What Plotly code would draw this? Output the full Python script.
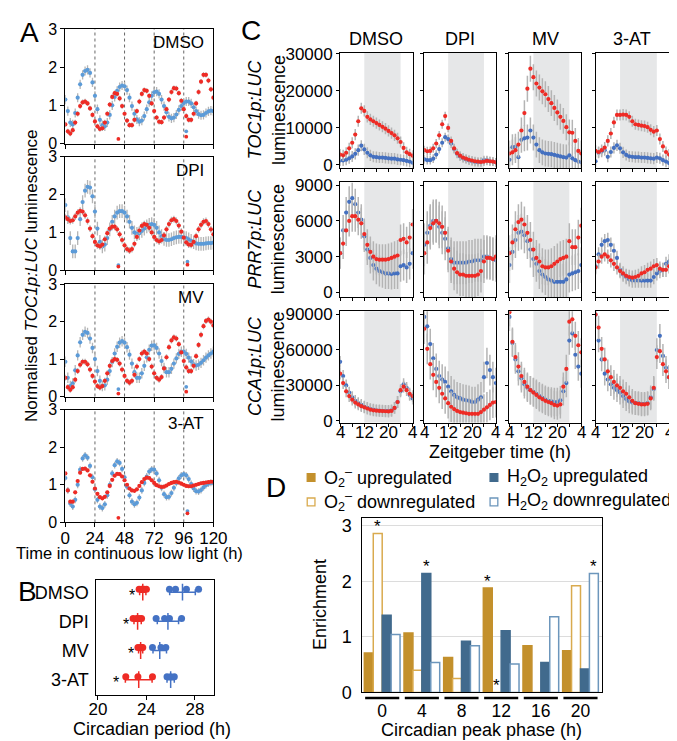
import numpy as np
import plotly.graph_objects as go

# ======================= DATA =======================
CONDITIONS = ["DMSO", "DPI", "MV", "3-AT"]

# ---- Panel A: normalised TOC1p:LUC, sampled every 2 h, 0..120 h ----
A_STEP = 2
A_DMSO_BLUE = [1.15, 0.85, 0.55, 0.5, 0.8, 1.2, 1.55, 1.8, 1.9, 1.93,
               1.85, 1.6, 1.25, 0.9, 0.62, 0.48, 0.45, 0.55, 0.75, 1.0,
               1.22, 1.38, 1.48, 1.52, 1.5, 1.4, 1.2, 0.98, 0.78, 0.63,
               0.57, 0.6, 0.72, 0.9, 1.08, 1.25, 1.34, 1.36, 1.3, 1.15,
               0.98, 0.82, 0.7, 0.66, 0.68, 0.76, 0.88, 0.98, 1.06, 1.1,
               1.1, 1.05, 0.95, 0.85, 0.77, 0.74, 0.75, 0.8, 0.84, 0.86,
               0.85]
A_DMSO_RED = [0.5, 0.32, 0.26, 0.35, 0.55, 0.78, 0.98, 1.08, 1.1, 1.05,
              0.92, 0.75, 0.58, 0.45, 0.38, 0.4, 0.55, 0.78, 1.02, 1.22,
              1.32, 1.3, 1.18, 0.98, 0.78, 0.6, 0.48, 0.48, 0.62, 0.85,
              1.1, 1.3, 1.4, 1.38, 1.25, 1.05, 0.85, 0.68, 0.57, 0.56,
              0.68, 0.9, 1.15, 1.35, 1.45, 1.44, 1.32, 1.12, 0.9, 0.72,
              0.62, 0.62, 0.78, 1.05, 1.35, 1.62, 1.8, 1.8, 1.65, 1.42,
              1.2]
A_DPI_BLUE = [1.72, 1.4, 0.85, 0.5, 0.5, 0.85, 1.35, 1.8, 2.1, 2.2,
              2.18, 1.95, 1.55, 1.1, 0.75, 0.63, 0.68, 0.85, 1.08, 1.28,
              1.42, 1.52, 1.56, 1.56, 1.52, 1.42, 1.28, 1.12, 1.0, 0.96,
              0.98, 1.04, 1.1, 1.16, 1.2, 1.22, 1.2, 1.12, 1.0, 0.9,
              0.83, 0.8, 0.8, 0.82, 0.85, 0.87, 0.88, 0.88, 0.87, 0.85,
              0.82, 0.78, 0.74, 0.71, 0.7, 0.7, 0.7, 0.71, 0.72, 0.72,
              0.73]
A_DPI_RED = [1.4, 1.35, 1.3, 1.32, 1.42, 1.52, 1.57, 1.55, 1.45, 1.3,
             1.1, 0.9, 0.75, 0.66, 0.63, 0.68, 0.82, 0.98, 1.1, 1.15,
             1.15, 1.08, 0.95, 0.8, 0.66, 0.56, 0.52, 0.56, 0.7, 0.88,
             1.05, 1.17, 1.22, 1.2, 1.12, 1.0, 0.88, 0.8, 0.76, 0.8,
             0.92, 1.08, 1.22, 1.32, 1.35, 1.3, 1.18, 1.02, 0.86, 0.74,
             0.68, 0.67, 0.75, 0.9, 1.08, 1.2, 1.28, 1.3, 1.22, 1.08,
             0.95]
A_MV_BLUE = [0.93, 0.5, 0.28, 0.35, 0.7, 1.1, 1.45, 1.65, 1.73, 1.7,
             1.55, 1.3, 1.0, 0.68, 0.42, 0.28, 0.3, 0.45, 0.68, 0.92,
             1.15, 1.33, 1.44, 1.48, 1.44, 1.32, 1.12, 0.88, 0.65, 0.5,
             0.5, 0.62, 0.82, 1.05, 1.25, 1.36, 1.37, 1.3, 1.15, 0.95,
             0.76, 0.65, 0.65, 0.74, 0.88, 1.02, 1.14, 1.2, 1.2, 1.14,
             1.04, 0.94, 0.86, 0.83, 0.85, 0.9, 0.97, 1.04, 1.1, 1.15,
             1.2]
A_MV_RED = [0.5, 0.25, 0.18, 0.25, 0.45, 0.68, 0.85, 0.93, 0.93, 0.86,
            0.72, 0.55, 0.4, 0.28, 0.24, 0.28, 0.42, 0.62, 0.82, 0.95,
            1.0, 0.98, 0.88, 0.72, 0.55, 0.42, 0.37, 0.42, 0.58, 0.8,
            1.0, 1.15, 1.2, 1.15, 1.0, 0.8, 0.62, 0.5, 0.45, 0.52,
            0.75, 1.05, 1.32, 1.5, 1.58, 1.55, 1.4, 1.18, 0.95, 0.78,
            0.68, 0.68, 0.82, 1.08, 1.38, 1.65, 1.88, 2.02, 2.06, 2.0,
            1.9]
A_3AT_BLUE = [1.18, 0.85, 0.5, 0.42, 0.6, 1.0, 1.4, 1.7, 1.78, 1.72,
              1.5, 1.2, 0.88, 0.6, 0.42, 0.38, 0.48, 0.72, 1.0, 1.3,
              1.52, 1.62, 1.58, 1.42, 1.2, 0.95, 0.72, 0.55, 0.48, 0.52,
              0.66, 0.85, 1.05, 1.22, 1.35, 1.41, 1.4, 1.3, 1.12, 0.92,
              0.75, 0.67, 0.68, 0.78, 0.92, 1.05, 1.17, 1.25, 1.28, 1.25,
              1.15, 1.02, 0.9, 0.83, 0.82, 0.86, 0.93, 0.99, 1.03, 1.05,
              1.05]
A_3AT_RED = [1.3, 0.85, 0.55, 0.55, 0.8, 1.1, 1.32, 1.42, 1.43, 1.38,
             1.25, 1.08, 0.9, 0.76, 0.67, 0.64, 0.68, 0.8, 0.97, 1.13,
             1.24, 1.29, 1.28, 1.22, 1.12, 1.0, 0.9, 0.85, 0.84, 0.88,
             0.97, 1.07, 1.15, 1.19, 1.18, 1.12, 1.05, 0.99, 0.96, 0.94,
             0.95, 0.98, 1.02, 1.05, 1.07, 1.08, 1.06, 1.03, 1.0, 0.97,
             0.96, 0.96, 0.98, 1.0, 1.02, 1.04, 1.05, 1.06, 1.07, 1.08,
             1.08]
A_BLUE = [A_DMSO_BLUE, A_DPI_BLUE, A_MV_BLUE, A_3AT_BLUE]
A_RED = [A_DMSO_RED, A_DPI_RED, A_MV_RED, A_3AT_RED]
A_ERR_BLUE = [0.12, 0.18, 0.14, 0.09]
A_ERR_RED = [0.07, 0.09, 0.08, 0.05]
A_PEAK_BLUE_T = [[98], [43, 99], [43, 98], [99]]
A_PEAK_BLUE_V = [[0.32], [0.14, 0.23], [0.2, 0.26], [0.3]]
A_PEAK_RED_T = [[43, 98], [43, 99], [43, 98], [43, 99]]
A_PEAK_RED_V = [[0.12, 0.18], [0.1, 0.15], [0.08, 0.13], [0.12, 0.24]]
A_XTICKS = [0, 24, 48, 72, 96, 120]
for s in A_BLUE + A_RED:
    assert len(s) == 61, len(s)

# ---- Panel B: circadian period (h) ----
B_RED = [[23.4, 23.6, 23.8, 24.0], [22.9, 23.2, 23.4, 23.6],
         [23.3, 23.5, 23.6, 23.7], [22.3, 23.3, 24.5]]
B_BLUE = [[25.9, 26.4, 27.3, 28.3], [24.8, 25.5, 25.9, 26.9],
          [24.5, 25.2, 25.6], [25.7, 26.0, 26.3]]
B_STAR_X = [22.8, 22.3, 22.7, 21.5]

# ---- Panel C: luminescence vs Zeitgeber time (ZT4..ZT28, hourly) ----
C_ZT = list(range(4, 29))
C_TOC1_RED = [
    [2800, 2600, 3300, 4500, 6000, 8200, 11800, 15300, 14600, 13000, 12300, 11800, 11300,
     10800, 10300, 9800, 9200, 8600, 8000, 7200, 6200, 4600, 3400, 2900, 2500],
    [4000, 3700, 3800, 4500, 5800, 8000, 11000, 13200, 10000, 6500, 4500, 3200, 2500,
     2000, 1700, 1400, 1200, 1000, 900, 800, 900, 1100, 1000, 900, 700],
    [3100, 3400, 4000, 5500, 9300, 14000, 20600, 26000, 23700, 22000, 20900, 19900, 19100,
     17800, 16700, 15400, 14200, 13000, 11900, 10200, 8800, 8700, 6500, 3800, 3100],
    [3800, 3500, 4000, 4700, 6500, 8500, 11500, 13500, 13500, 13600, 13500, 13000, 11800,
     11000, 10800, 10600, 10500, 10200, 9500, 9000, 9300, 7000, 5000, 3500, 2800]]
C_TOC1_BLUE = [
    [1200, 1200, 1400, 1800, 2300, 3000, 4000, 5200, 4200, 3300, 2600, 2200, 2100,
     2000, 2000, 1900, 1800, 1700, 1700, 1500, 1400, 1300, 1100, 900, 600],
    [1500, 1300, 1300, 1700, 2800, 4300, 6000, 7500, 7000, 5800, 4300, 3000, 2300,
     1800, 1500, 1200, 1000, 800, 700, 800, 1300, 1300, 1000, 900, 700],
    [1400, 4800, 4900, 2100, 6800, 7200, 7400, 9300, 7400, 5500, 4000, 3400, 3100,
     3000, 2900, 2700, 2500, 2300, 2100, 2000, 2600, 1800, 1300, 900, 700],
    [1000, 3300, 3600, 4000, 2200, 3500, 4600, 5300, 4500, 3400, 2700, 2300, 2200,
     2100, 2100, 2000, 2000, 1900, 1800, 1700, 2000, 1800, 1300, 900, 500]]
C_PRR7_RED = [
    [3300, 4100, 5200, 6000, 6400, 6400, 6100, 5800, 4900, 4000, 3400, 3000, 2800,
     2750, 2750, 2750, 2800, 2900, 3000, 3100, 4400, 4500, 4200, 4600, 5700],
    [3300, 4200, 5400, 5800, 6000, 5800, 5500, 5000, 3500, 2600, 2000, 1700, 1500,
     1500, 1400, 1400, 1400, 1400, 1500, 1800, 2600, 2900, 2900, 2800, 3000],
    [3300, 4200, 5300, 5900, 6100, 5700, 5000, 4400, 3600, 2900, 2600, 2200, 2100,
     2100, 2200, 2400, 2600, 2800, 2900, 3000, 4300, 3800, 3800, 4600, 5600],
    [2100, 2600, 3000, 3200, 3000, 2700, 2400, 2100, 1800, 1600, 1400, 1300, 1250,
     1300, 1400, 1600, 1700, 1900, 2000, 2200, 2300, 2000, 1900, 1900, 2200]]
C_PRR7_BLUE = [
    [3300, 5200, 6700, 7600, 7900, 7400, 6700, 6100, 4700, 3600, 2900, 2300, 2000,
     1800, 1700, 1600, 1600, 1550, 1600, 1600, 2200, 2300, 2100, 2400, 3300],
    [4000, 5000, 5600, 6000, 6000, 5500, 5000, 4500, 3700, 2800, 2500, 2500, 2500,
     2500, 2500, 2600, 2600, 2700, 2700, 2700, 3000, 3000, 2900, 2800, 2700],
    [2300, 3400, 4400, 5000, 5100, 4800, 4300, 3600, 2800, 2400, 1800, 1500, 1300,
     1100, 1000, 900, 900, 900, 900, 1100, 1500, 1600, 1700, 1800, 2300],
    [2200, 3200, 4000, 4300, 4400, 4000, 3500, 2900, 1900, 1500, 1300, 1100, 1000,
     1000, 1000, 1000, 1000, 1000, 1000, 1300, 1600, 1800, 1900, 2400, 2600]]
C_CCA1_RED = [
    [40000, 32000, 25000, 21000, 18000, 15500, 14000, 12500, 11500, 10500, 9500, 9000, 8700,
     8500, 8300, 8200, 8000, 8500, 11000, 16000, 26000, 29000, 26000, 23000, 21000],
    [78000, 61000, 48000, 39000, 33000, 28000, 23000, 19000, 15000, 12000, 10000, 8500, 7500,
     7000, 6500, 6000, 6000, 6000, 6000, 7500, 9500, 11500, 13500, 15500, 16000],
    [92000, 67000, 54000, 46000, 38000, 33000, 29000, 26000, 24000, 22000, 20000, 18500, 17000,
     16000, 15000, 13500, 13000, 14000, 29000, 44000, 84000, 86000, 72000, 64000, 58000],
    [90000, 79000, 61000, 52000, 42000, 37000, 33000, 30000, 28000, 25000, 23000, 20000, 17000,
     15000, 14500, 14000, 14000, 14500, 19000, 28000, 54000, 59000, 48000, 42000, 37000]]
C_CCA1_BLUE = [
    [50000, 38000, 30000, 24000, 20000, 17000, 15000, 13500, 12000, 11000, 10000, 9500, 9000,
     8800, 8600, 8500, 8500, 9000, 11000, 16000, 25000, 31000, 28000, 22000, 19000],
    [88000, 80000, 65000, 53000, 44000, 38000, 35000, 33000, 29000, 25000, 22000, 20000, 19000,
     18000, 17500, 17000, 16000, 16000, 18000, 20000, 37000, 49000, 43000, 37000, 32000],
    [88000, 66000, 52000, 42000, 36000, 31000, 28000, 26000, 24500, 23000, 21000, 19500, 18000,
     17000, 16500, 16000, 16000, 17500, 25000, 32000, 68000, 74000, 56000, 46000, 40000],
    [90000, 68000, 52000, 40000, 35000, 31000, 28000, 26000, 24000, 21000, 18500, 16500, 15500,
     15000, 15000, 14500, 14500, 15000, 20000, 27000, 60000, 72000, 55000, 45000, 37000]]
C_ERR_TOC1 = [1500, 1200, 3500, 1500]
C_ERR_PRR7 = [1300, 1800, 1500, 600]
C_ERR_CCA1 = [5000, 13000, 12000, 10000]
C_YTICKS = [[0, 10000, 20000, 30000], [0, 3000, 6000, 9000], [0, 30000, 60000, 90000]]
C_ROW_LABELS = ["TOC1p:LUC", "PRR7p:LUC", "CCA1p:LUC"]
C_XTICKS = [4, 8, 12, 16, 20, 24, 28]
C_XLABEL_VALS = [4, 12, 20, 28]
C_XLABEL_TEXT = ["4", "12", "20", "4"]
C_DARK = [12, 24]
for grp in (C_TOC1_RED, C_TOC1_BLUE, C_PRR7_RED, C_PRR7_BLUE, C_CCA1_RED, C_CCA1_BLUE):
    for s in grp:
        assert len(s) == 25, len(s)

# ---- Panel D: enrichment by circadian peak phase ----
D_PHASES = ["0", "4", "8", "12", "16", "20"]
D_O2_UP = [0.71, 1.07, 0.63, 1.88, 0.84, 0.75]
D_O2_DOWN = [2.86, 0.40, 0.25, 0.0, 0.0, 1.92]
D_H2O2_UP = [1.39, 2.14, 0.92, 1.11, 0.54, 0.42]
D_H2O2_DOWN = [1.04, 0.54, 0.84, 0.51, 1.36, 2.14]
D_STARS = [(0, 1), (1, 2), (3, 0), (3, 1), (5, 3)]  # (phase index, series index)

# ======================= STYLE =======================
W, H = 677, 741
FONT = "Liberation Sans, Arial, Helvetica, sans-serif"
RED = "#EE2B25"
BLUE_A = "#5C9BD8"
BLUE_B = "#4472C4"
BLUE_C = "#4470C0"
ERR_GREY = "#B4B4B4"
SHADE = "#E6E7E8"
GOLD = "#C3902C"
GOLD_L = "#D9AA4E"
STEEL = "#416A8D"
STEEL_L = "#6C96BC"


def px(x):
    return x / W


def py(y):
    return 1 - y / H


fig = go.Figure()
layout = dict(width=W, height=H, margin=dict(l=0, r=0, t=0, b=0),
              paper_bgcolor="white", plot_bgcolor="white", showlegend=False,
              font=dict(family=FONT, size=17, color="black"),
              barmode="group", bargap=0.1, bargroupgap=0.0)
shapes = []
annotations = []

AX = dict(showline=True, linecolor="black", linewidth=1, mirror=True,
          ticks="outside", ticklen=4, tickwidth=1, tickcolor="black",
          showgrid=False, zeroline=False, tickfont=dict(size=17, family=FONT))


def add_axes(n, xl, xr, yt, yb, xkw, ykw):
    xname = "xaxis" if n == 1 else f"xaxis{n}"
    yname = "yaxis" if n == 1 else f"yaxis{n}"
    layout[xname] = dict(AX, domain=[px(xl), px(xr)], anchor="y" if n == 1 else f"y{n}", **xkw)
    layout[yname] = dict(AX, domain=[py(yb), py(yt)], anchor="x" if n == 1 else f"x{n}", **ykw)
    return ("x" if n == 1 else f"x{n}"), ("y" if n == 1 else f"y{n}")


def ann(text, x, y, size=17, xanchor="center", yanchor="middle", angle=0, **kw):
    d = dict(text=text, x=px(x), y=py(y), xref="paper", yref="paper", showarrow=False,
             font=dict(size=size, family=FONT, color="black"), xanchor=xanchor,
             yanchor=yanchor, textangle=angle)
    d.update(kw)
    annotations.append(d)


# ======================= PANEL A =======================
A_BOX = [(13.3, 130.7), (144, 260.7), (275, 390), (403.3, 519)]
for i, cond in enumerate(CONDITIONS):
    n = i + 1
    top, bot = A_BOX[i]
    xa, ya = add_axes(n, 51, 204, top, bot,
                      dict(range=[0, 120], tickvals=A_XTICKS, showticklabels=(i == 3),
                           ticklabelstandoff=-4),
                      dict(range=[0, 3], tickvals=[0, 1, 2, 3],
                           tickfont=dict(size=16, family=FONT)))
    t = list(range(0, A_STEP * len(A_BLUE[i]), A_STEP))
    for vals, err, col in ((A_BLUE[i], A_ERR_BLUE[i], BLUE_A), (A_RED[i], A_ERR_RED[i], RED)):
        fig.add_trace(go.Scatter(x=t, y=vals, mode="markers", xaxis=xa, yaxis=ya,
                                 marker=dict(size=4.2, color=col),
                                 error_y=dict(type="constant", value=err, color=ERR_GREY,
                                              thickness=1.3, width=0)))
    fig.add_trace(go.Scatter(x=A_PEAK_BLUE_T[i], y=A_PEAK_BLUE_V[i], mode="markers",
                             xaxis=xa, yaxis=ya, marker=dict(size=3.8, color=BLUE_A)))
    fig.add_trace(go.Scatter(x=A_PEAK_RED_T[i], y=A_PEAK_RED_V[i], mode="markers",
                             xaxis=xa, yaxis=ya, marker=dict(size=3.8, color=RED)))
    for v in A_XTICKS[1:-1]:
        shapes.append(dict(type="line", xref=xa, yref=f"{ya} domain", x0=v, x1=v, y0=0, y1=1,
                           line=dict(color="#666666", width=1, dash="dot"), layer="below"))
    ann(cond, 196, top + 14, size=17, xanchor="right")

ann("A", 2, 17, size=28, xanchor="left")
ann("Normalised <i>TOC1p:LUC</i> luminescence", 16, 266, size=17, angle=-90)
ann("Time in continuous low light (h)", 117, 550, size=16.5)

# ======================= PANEL B =======================
xb, yb = add_axes(5, 83, 205, 578, 696,
                  dict(range=[19.87, 29.6], tickvals=[20, 24, 28], ticklabelstandoff=-5,
                       tickfont=dict(size=17, family=FONT)),
                  dict(range=[-0.53, 3.42], tickvals=[3, 2, 1, 0], ticktext=CONDITIONS,
                       ticks="", ticklabelstandoff=3, tickfont=dict(size=18, family=FONT)))
for i in range(4):
    ypos = 3 - i
    for vals, col in ((B_RED[i], RED), (B_BLUE[i], BLUE_B)):
        arr = np.array(vals)
        fig.add_trace(go.Scatter(x=[float(arr.mean())], y=[ypos], mode="markers",
                                 xaxis=xb, yaxis=yb,
                                 marker=dict(symbol="line-ns-open", size=12, color=col,
                                             line=dict(width=1.5, color=col)),
                                 error_x=dict(type="constant", value=float(arr.std(ddof=1)),
                                              color=col, thickness=1.5, width=3)))
        fig.add_trace(go.Scatter(x=vals, y=[ypos + 0.1] * len(vals), mode="markers",
                                 xaxis=xb, yaxis=yb, marker=dict(size=7, color=col)))
    annotations.append(dict(text="*", x=B_STAR_X[i], y=ypos, xref=xb, yref=yb, showarrow=False,
                            font=dict(size=16, family=FONT, color="black"), yshift=-3))
ann("B", 0, 590, size=28, xanchor="left")
ann("Circadian period (h)", 141, 731, size=18)

# ======================= PANEL C =======================
C_COLS = [(335, 410), (422, 496), (510, 584.3), (599, 675)]
C_ROWS = [(37.7, 155.7), (170, 288.3), (302.7, 416.7)]
C_YRANGE = [[-800, 30300], [-400, 9270], [-1400, 92700]]
C_RED = [C_TOC1_RED, C_PRR7_RED, C_CCA1_RED]
C_BLUE = [C_TOC1_BLUE, C_PRR7_BLUE, C_CCA1_BLUE]
C_ERR = [C_ERR_TOC1, C_ERR_PRR7, C_ERR_CCA1]
n = 6
for r in range(3):
    for c in range(4):
        xl, xr = C_COLS[c]
        yt, ybt = C_ROWS[r]
        xc, yc = add_axes(n, xl, xr, yt, ybt,
                          dict(range=[4, 28], tickvals=C_XTICKS, showticklabels=False, ticklen=3),
                          dict(range=C_YRANGE[r], tickvals=C_YTICKS[r],
                               ticktext=[str(v) for v in C_YTICKS[r]],
                               showticklabels=(c == 0), ticklen=3))
        shapes.append(dict(type="rect", xref=xc, yref=f"{yc} domain", x0=C_DARK[0], x1=C_DARK[1],
                           y0=0, y1=1, fillcolor=SHADE, line=dict(width=0), layer="below"))
        for vals, col in ((C_BLUE[r][c], BLUE_C), (C_RED[r][c], RED)):
            fig.add_trace(go.Scatter(x=C_ZT, y=vals, mode="markers", xaxis=xc, yaxis=yc,
                                     marker=dict(size=4.2, color=col),
                                     error_y=dict(type="constant", value=C_ERR[r][c],
                                                  color=ERR_GREY, thickness=1.5, width=0)))
        if r == 2:
            for v, txt in zip(C_XLABEL_VALS, C_XLABEL_TEXT):
                annotations.append(dict(text=txt, x=v, y=py(427), xref=xc, yref="paper",
                                        showarrow=False, xanchor="center", yanchor="middle",
                                        font=dict(size=17, family=FONT, color="black")))
        n += 1
    ann(f"<i>{C_ROW_LABELS[r]}</i><br>luminescence", 259, (C_ROWS[r][0] + C_ROWS[r][1]) / 2,
        size=18, angle=-90)
for c, cond in enumerate(CONDITIONS):
    ann(cond, (C_COLS[c][0] + C_COLS[c][1]) / 2, 24, size=18)
ann("C", 231, 15, size=28, xanchor="left")
ann("Zeitgeber time (h)", 500, 447, size=18)

# ======================= PANEL D =======================
xd_, yd_ = add_axes(18, 358, 606, 514.3, 693.3,
                    dict(range=[-0.5, 5.55], tickvals=list(range(6)), ticktext=D_PHASES,
                         ticks="", ticklabelstandoff=3, tickfont=dict(size=17.5, family=FONT)),
                    dict(range=[0, 3.14], tickvals=[0, 1, 2, 3], ticks="", ticklabelstandoff=6,
                         showgrid=True, gridcolor="#DCDCDC", gridwidth=1,
                         tickfont=dict(size=18, family=FONT)))
D_SERIES = [(D_O2_UP, GOLD, GOLD), (D_O2_DOWN, "white", GOLD_L),
            (D_H2O2_UP, STEEL, STEEL), (D_H2O2_DOWN, "white", STEEL_L)]
groups = list(range(len(D_PHASES)))
for vals, fill, line in D_SERIES:
    fig.add_trace(go.Bar(x=groups, y=vals, xaxis=xd_, yaxis=yd_,
                         marker=dict(color=fill, line=dict(color=line, width=1.5))))
bar_w = (1 - 0.1) / 4
offsets = [(-1.5 + k) * bar_w for k in range(4)]
for g, s in D_STARS:
    annotations.append(dict(text="*", x=g + offsets[s], y=D_SERIES[s][0][g], xref=xd_, yref=yd_,
                            showarrow=False, yanchor="bottom", yshift=-5,
                            font=dict(size=17, family=FONT, color="black")))
for g in groups:
    shapes.append(dict(type="line", xref=xd_, yref="paper", x0=g - 0.43, x1=g + 0.43,
                       y0=py(699), y1=py(699), line=dict(color="black", width=2.5)))
ann("Enrichment", 315, 603, size=18, angle=-90)
ann("Circadian peak phase (h)", 481, 732, size=18)
ann("D", 256, 483, size=28, xanchor="left")

# custom legend for panel D
LEG = [("O<sub>2</sub><sup>–</sup> upregulated", 301, 473, GOLD, GOLD),
       ("H<sub>2</sub>O<sub>2</sub> upregulated", 490, 473, STEEL, STEEL),
       ("O<sub>2</sub><sup>–</sup> downregulated", 301, 498, "white", GOLD_L),
       ("H<sub>2</sub>O<sub>2</sub> downregulated", 490, 498, "white", STEEL_L)]
for text, lx, ly, fill, line in LEG:
    shapes.append(dict(type="rect", xref="paper", yref="paper", x0=px(lx), x1=px(lx + 8),
                       y0=py(ly + 4), y1=py(ly - 4), fillcolor=fill,
                       line=dict(color=line, width=1.3)))
    ann(text, lx + 15, ly, size=18, xanchor="left")

layout["shapes"] = shapes
layout["annotations"] = annotations
fig.update_layout(**layout)
fig.write_html("out.html")
